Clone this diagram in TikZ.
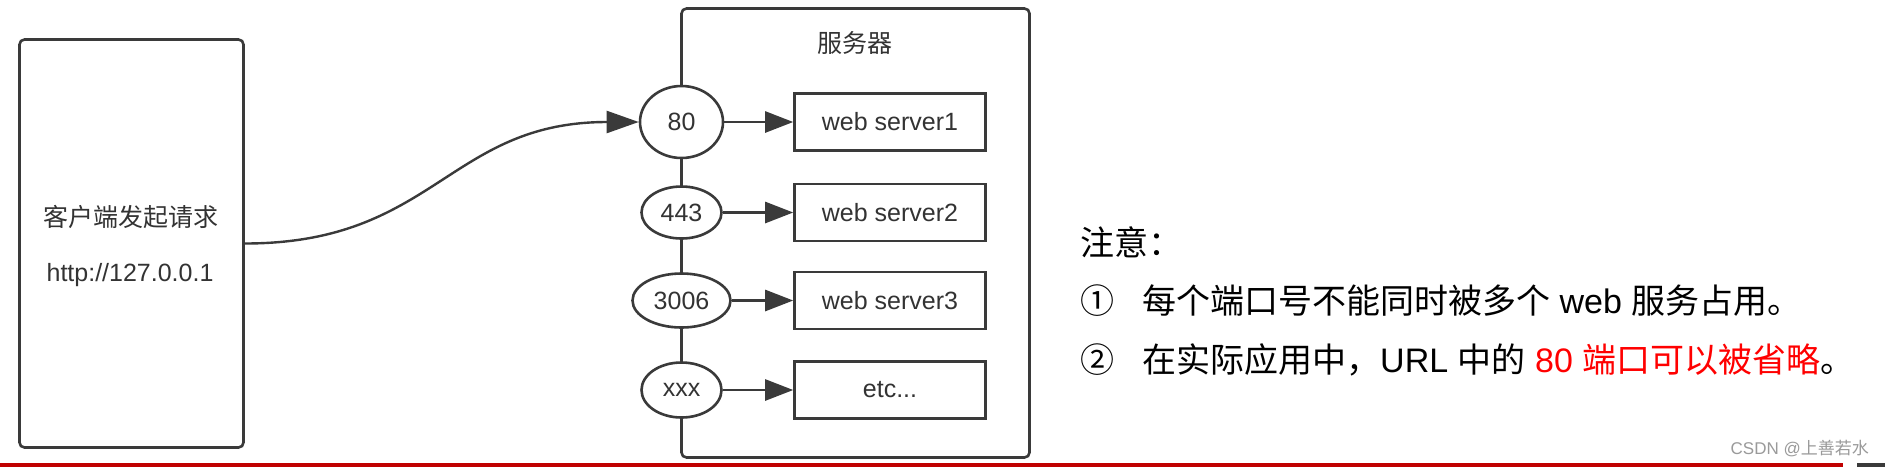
\documentclass[tikz,border=0pt]{standalone}
\usepackage{fontspec}
\setmainfont{Liberation Sans}
\newfontfamily\cjk{Noto Sans CJK SC}
\usetikzlibrary{shapes.geometric,arrows.meta}
\definecolor{ln}{HTML}{3A3A3A}
\definecolor{tx}{HTML}{333333}
\definecolor{redbar}{HTML}{C00000}
\definecolor{wm}{HTML}{9A9A9A}
\begin{document}
\begin{tikzpicture}[x=1pt,y=-1pt,
  box/.style={draw=ln,line width=2.6pt,fill=white,inner sep=0pt},
  dtext/.style={font=\fontsize{25}{30}\selectfont,text=tx,inner sep=0pt},
  port/.style={box,ellipse,dtext},
  wsbox/.style={box,rectangle,dtext,minimum width=191pt,minimum height=57pt},
  arr/.style={draw=ln,line width=2.6pt,-{Triangle[length=28pt,width=21pt]}},
  ntext/.style={font=\fontsize{34}{40}\selectfont,inner sep=0pt,anchor=west}
]
\useasboundingbox (0,0) rectangle (1885,467);
\fill[white] (0,0) rectangle (1885,467);

% client
\node[box,rectangle,rounded corners=5pt,minimum width=224pt,minimum height=408pt] (client) at (131.5,243.5) {};
\node[dtext] (ctitle) at (131,217) {\cjk 客户端发起请求};
\node[dtext] (curl) at (130,275) {http://127.0.0.1};

% server
\node[box,rectangle,rounded corners=5pt,minimum width=348pt,minimum height=449pt] (server) at (855.5,233) {};
\node[dtext] (stitle) at (855,43) {\cjk 服务器};

% ports
\node[port,minimum width=83pt,minimum height=72pt] (p80) at (681.5,122) {80};
\node[port,minimum width=80pt,minimum height=52pt] (p443) at (681.5,212.5) {443};
\node[port,minimum width=98pt,minimum height=54pt] (p3006) at (681.5,300.5) {3006};
\node[port,minimum width=80pt,minimum height=55pt] (pxxx) at (681.5,390) {xxx};

% web servers
\node[wsbox] (ws1) at (890,122) {web server1};
\node[wsbox] (ws2) at (890,212.5) {web server2};
\node[wsbox] (ws3) at (890,300.5) {web server3};
\node[wsbox] (ws4) at (890,390) {etc...};

\draw[arr] (p80) -- (ws1);
\draw[arr] (p443) -- (ws2);
\draw[arr] (p3006) -- (ws3);
\draw[arr] (pxxx) -- (ws4);

\draw[draw=ln,line width=2.4pt,-{Triangle[length=32pt,width=22pt]}]
  (client.east) .. controls +(190,0) and +(-190,0) .. (p80.west);

% notes
\node[ntext] (note) at (1080,242) {\cjk 注意：};
\node[ntext] (n1) at (1080,301) {\cjk ①};
\node[ntext] (l1) at (1142,301) {{\cjk 每个端口号不能同时被多个} web {\cjk 服务占用。}};
\node[ntext] (n2) at (1080,360) {\cjk ②};
\node[ntext] (l2) at (1142,360) {{\cjk 在实际应用中，}URL {\cjk 中的} \textcolor{red}{80 {\cjk 端口可以被省略}}{\cjk 。}};

% watermark
\node[font=\fontsize{17}{20}\selectfont,text=wm,inner sep=0pt,anchor=east] (wmk) at (1869,449) {CSDN @{\cjk 上善若水}};

% bottom bars
\fill[redbar] (0,463) rectangle (1843,467);
\fill[ln] (1857,463) rectangle (1885,467);
\end{tikzpicture}
\end{document}
